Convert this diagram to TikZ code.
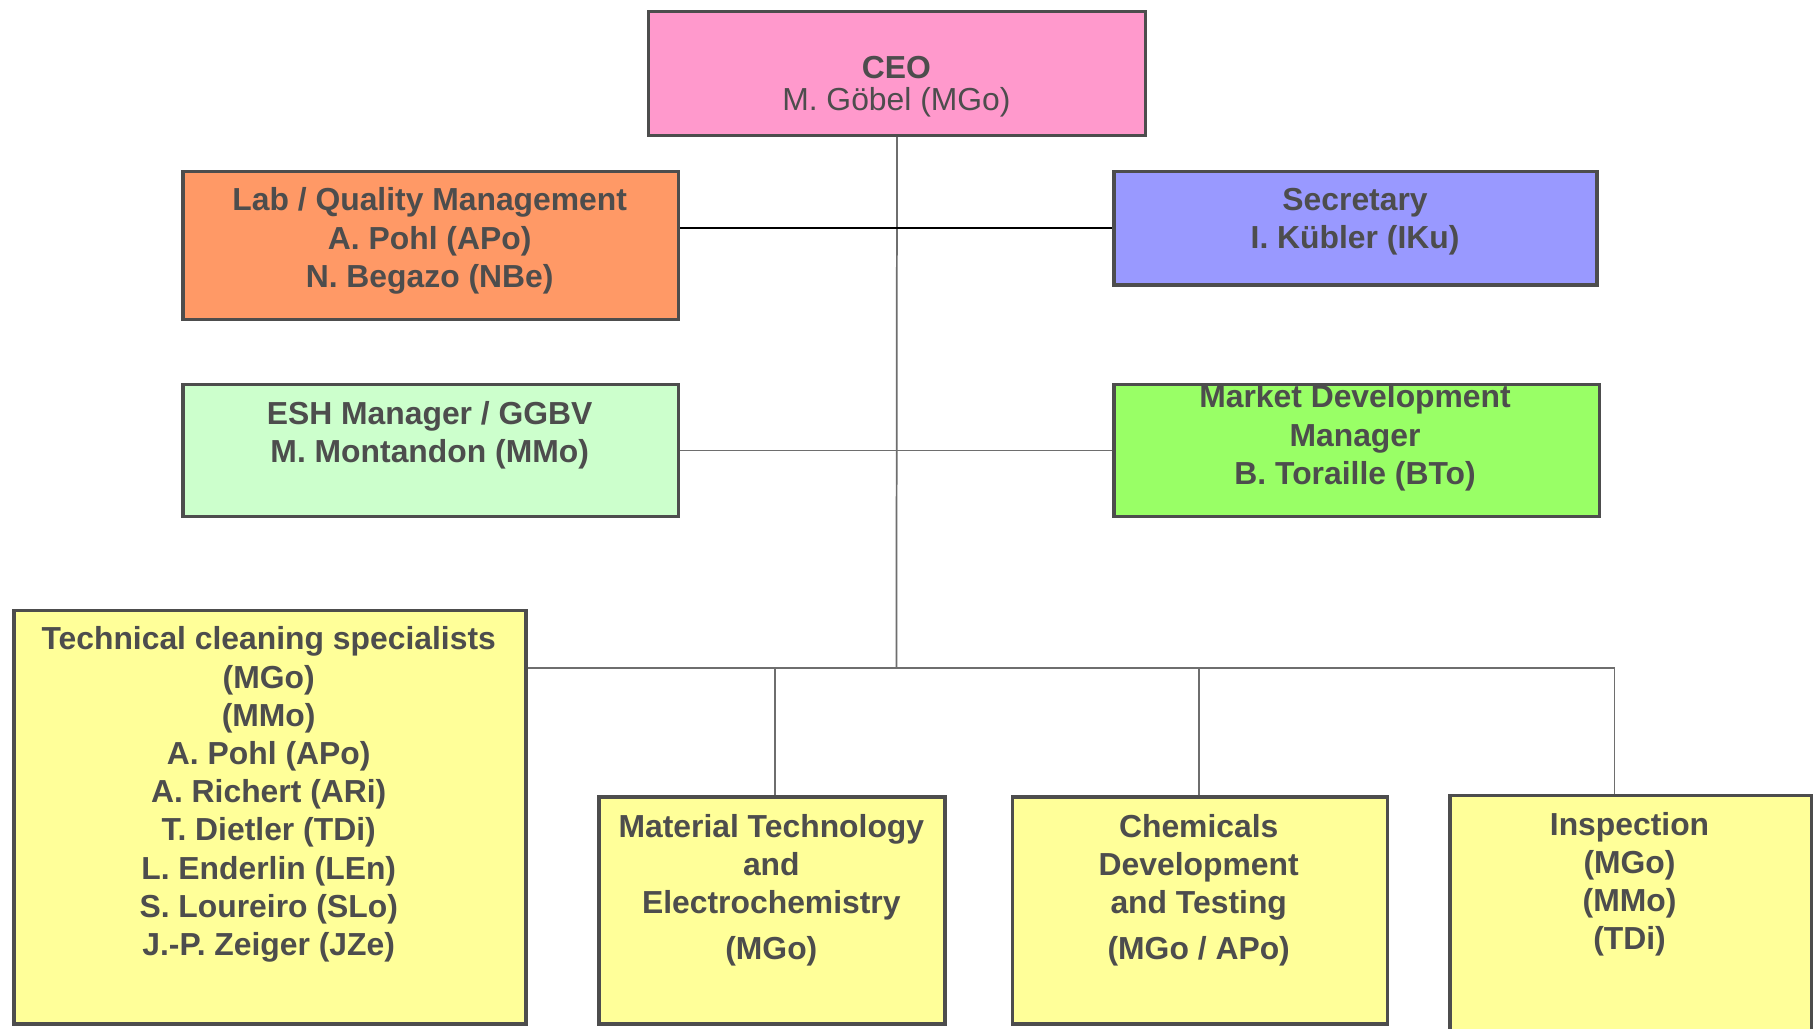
\documentclass[tikz,border=0pt]{standalone}
\usepackage{fontspec}
\setmainfont{Liberation Sans}
\begin{document}
\begin{tikzpicture}[x=1pt,y=-1pt,
  box/.style={draw=boxline,line width=3pt,rectangle,inner sep=0pt,anchor=north west},
  txt/.style={text=txtgray,font=\bfseries\fontsize{27.5}{33}\selectfont,align=center,anchor=north,inner sep=0pt},
  conn/.style={draw=lngray,line width=1.5pt}]
\definecolor{boxline}{HTML}{4D4D4D}
\definecolor{txtgray}{HTML}{4D4D4D}
\definecolor{lngray}{HTML}{6E6E6E}
\definecolor{cpink}{HTML}{FF99CC}
\definecolor{corange}{HTML}{FF9966}
\definecolor{cblue}{HTML}{9999FF}
\definecolor{cmint}{HTML}{CCFFCC}
\definecolor{cgreen}{HTML}{99FF66}
\definecolor{cyellow}{HTML}{FFFF99}
\useasboundingbox[fill=white] (0,0) rectangle (1568,888);
% boxes
\node[box,fill=cpink,minimum width=429pt,minimum height=107pt] (ceo) at (558.5,8.5) {};
\node[box,fill=corange,minimum width=428pt,minimum height=128pt] (lab) at (156.5,146.5) {};
\node[box,fill=cblue,minimum width=417pt,minimum height=98pt] (sec) at (960.5,146.5) {};
\node[box,fill=cmint,minimum width=428pt,minimum height=114pt] (esh) at (156.5,330.5) {};
\node[box,fill=cgreen,minimum width=419pt,minimum height=114pt] (mkt) at (960.5,330.5) {};
\node[box,fill=cyellow,minimum width=442pt,minimum height=357pt] (tech) at (10.5,525.5) {};
\node[box,fill=cyellow,minimum width=299pt,minimum height=196pt] (mat) at (515.5,686.5) {};
\node[box,fill=cyellow,minimum width=324pt,minimum height=196pt] (chem) at (872.5,686.5) {};
\node[box,fill=cyellow,minimum width=312pt,minimum height=210pt] (insp) at (1250.5,685.5) {};
% texts
\node[txt] (ceo-t) at (774,48) {CEO\\[-5pt]\mdseries M. Göbel (MGo)};
\node[txt] (lab-t) at (371,162) {Lab / Quality Management\\A. Pohl (APo)\\N. Begazo (NBe)};
\node[txt] (sec-t) at (1170,162) {Secretary\\I. Kübler (IKu)};
\node[txt] (esh-t) at (371,346) {ESH Manager / GGBV\\M. Montandon (MMo)};
\node[txt] (mkt-t) at (1170,332) {Market Development\\Manager\\B. Toraille (BTo)};
\node[txt] (tech-t) at (232,541) {Technical cleaning specialists\\(MGo)\\(MMo)\\A. Pohl (APo)\\A. Richert (ARi)\\T. Dietler (TDi)\\L. Enderlin (LEn)\\S. Loureiro (SLo)\\J.-P. Zeiger (JZe)};
\node[txt] (mat-t) at (666,703) {Material Technology\\and\\Electrochemistry\\[6pt](MGo)};
\node[txt] (chem-t) at (1035,703) {Chemicals\\Development\\and Testing\\[6pt](MGo / APo)};
\node[txt] (insp-t) at (1407,701) {Inspection\\(MGo)\\(MMo)\\(TDi)};
% connectors
\coordinate (busC) at (774,577);
\coordinate (busL) at (456,577);
\coordinate (busR) at (1394,577);
\coordinate (bM) at (669,577);
\coordinate (bC) at (1035,577);
\draw[conn] (ceo.south) -- (busC);
\draw[conn] (busL) -- (busR) -- (busR |- insp.north);
\draw[conn] (bM) -- (bM |- mat.north);
\draw[conn] (bC) -- (bC |- chem.north);
\draw[conn] (esh.east) -- (mkt.west);
\draw[black,line width=2pt] (lab.east |- sec.west) -- (sec.west);
\end{tikzpicture}
\end{document}
